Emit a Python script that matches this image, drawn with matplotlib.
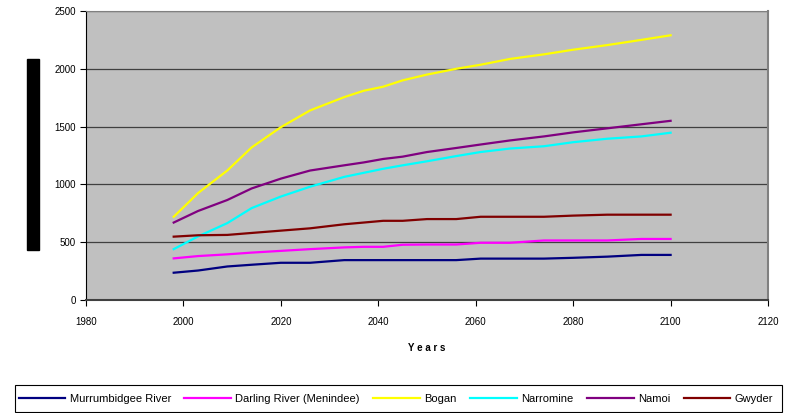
import matplotlib.pyplot as plt
from matplotlib.patches import Rectangle

plt.rcParams['font.family'] = ['Liberation Sans', 'DejaVu Sans']

years = [1998, 2003, 2009, 2014, 2020, 2026, 2033, 2037, 2041, 2045,
         2050, 2056, 2061, 2067, 2074, 2080, 2087, 2094, 2100]

murrumbidgee = [236, 255, 290, 305, 322, 322, 345, 345, 345, 345,
                345, 345, 358, 358, 358, 365, 375, 390, 390]
darling = [360, 380, 395, 410, 425, 440, 455, 460, 460, 478,
           480, 480, 495, 495, 515, 515, 515, 528, 528]
bogan = [720, 925, 1120, 1320, 1495, 1640, 1755, 1810, 1845, 1900,
         1950, 2000, 2035, 2085, 2125, 2165, 2205, 2250, 2290]
narromine = [440, 550, 665, 795, 895, 980, 1065, 1100, 1135, 1165,
             1200, 1245, 1280, 1310, 1330, 1365, 1395, 1415, 1447]
namoi = [670, 770, 865, 965, 1050, 1120, 1165, 1190, 1220, 1240,
         1280, 1315, 1345, 1380, 1415, 1450, 1485, 1520, 1550]
gwyder = [548, 560, 563, 580, 600, 620, 655, 670, 685, 685,
          700, 700, 720, 720, 720, 730, 738, 738, 738]

series = [
    ('Murrumbidgee River', murrumbidgee, '#000080'),
    ('Darling River (Menindee)', darling, '#FF00FF'),
    ('Bogan', bogan, '#FFFF00'),
    ('Narromine', narromine, '#00FFFF'),
    ('Namoi', namoi, '#800080'),
    ('Gwyder', gwyder, '#800000'),
]

fig = plt.figure(figsize=(7.87, 4.13), dpi=100)
ax = fig.add_axes([0.1093, 0.2736, 0.8666, 0.6998])
ax.set_facecolor('#C0C0C0')

for name, vals, col in series:
    ax.plot(years, vals, color=col, lw=1.6, label=name)

ax.set_xlim(1980, 2120)
ax.set_ylim(0, 2500)
ax.set_xticks(range(1980, 2121, 20))
ax.set_yticks(range(0, 2501, 500))
ax.yaxis.grid(True, color='#404040', lw=0.9)
ax.set_axisbelow(True)
ax.tick_params(labelsize=7, length=4, width=0.8, color='black')
ax.tick_params(axis='x', pad=8)

ax.spines['left'].set_color('black')
ax.spines['bottom'].set_color('#404040')
ax.spines['bottom'].set_linewidth(1.5)
ax.spines['top'].set_color('#808080')
ax.spines['right'].set_color('#808080')
ax.spines['right'].set_linewidth(1.5)

ax.set_xlabel('Y e a r s', fontsize=7, fontweight='bold', labelpad=12)

# blacked-out y axis title
fig.add_artist(Rectangle((27 / 787, 1 - 250 / 413), 12 / 787, 191 / 413,
                         transform=fig.transFigure, color='black'))

# legend box spanning the figure width
fig.add_artist(Rectangle((15 / 787, 1 - 412 / 413), 767 / 787, 27 / 413,
                         transform=fig.transFigure, facecolor='white',
                         edgecolor='black', lw=0.8))
fig.legend(loc='center', ncol=6, bbox_to_anchor=(0.503, 1 - 398.5 / 413),
           fontsize=8, handlelength=4.2, handletextpad=0.4,
           columnspacing=1.2, frameon=False, borderaxespad=0)

fig.savefig('out.png', dpi=100)
